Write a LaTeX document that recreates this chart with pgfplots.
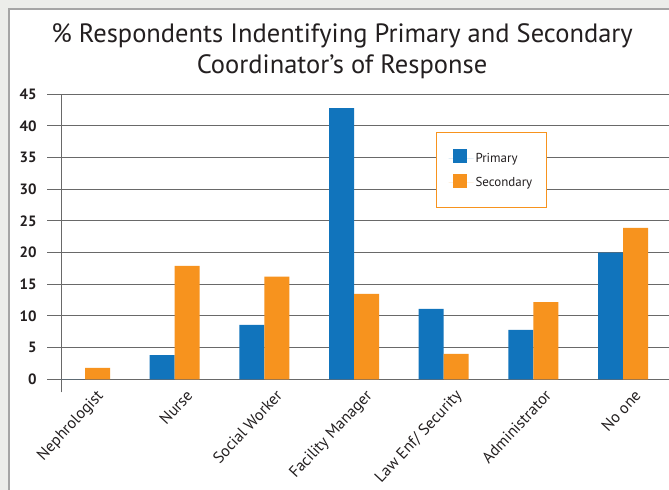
\documentclass[border=0pt]{standalone}
\usepackage{fontspec}
\setmainfont{PT Sans}
\usepackage{pgfplots}
\pgfplotsset{compat=1.18}
\usetikzlibrary{backgrounds}
\definecolor{barblue}{RGB}{17,116,188}
\definecolor{barorange}{RGB}{247,147,30}
\definecolor{gridgray}{RGB}{105,105,105}
\definecolor{framebg}{RGB}{236,237,234}
\definecolor{framegray}{RGB}{165,165,165}
\definecolor{labeltext}{RGB}{35,31,32}

\begin{document}
\begin{tikzpicture}
\begin{axis}[
  scale only axis, width=602bp, height=285bp,
  xmin=-0.268, xmax=6.446, ymin=0, ymax=45,
  ytick={0,5,...,45},
  xtick={0,...,6},
  xticklabels={Nephrologist, Nurse, Social Worker, Facility Manager,
    Law Enf/ Security, Administrator, No one},
  ybar=0pt, bar width=25bp,
  ymajorgrids, grid style={gridgray, line width=1bp},
  axis line style={draw=none},
  tick align=outside,
  major tick length=14bp,
  major y tick style={gridgray, line width=1bp},
  major x tick style={draw=none},
  /pgf/number format/assume math mode=true,
  yticklabel style={font=\fontsize{15}{15}\selectfont\bfseries, text=labeltext, xshift=-7bp},
  xticklabel style={rotate=47, anchor=north east, text=labeltext,
    font=\fontsize{16}{16}\selectfont, xshift=14bp, yshift=-1bp},
  legend style={at={(0.623,0.868)}, anchor=north west, draw=barorange,
    line width=1bp, fill=white, font=\fontsize{13}{13}\selectfont,
    text=labeltext, inner xsep=12bp, inner ysep=17bp, row sep=8bp},
  legend cell align=left,
  legend image code/.code={%
    \path (0bp,0bp) -- (25bp,0bp);
    \fill[#1] (4bp,-5bp) rectangle (18bp,9bp);},
  clip=false,
]
\addplot[fill=barblue, draw=none] coordinates
  {(0,0) (1,3.8) (2,8.6) (3,42.8) (4,11.1) (5,7.8) (6,20.0)};
\addplot[fill=barorange, draw=none] coordinates
  {(0,1.8) (1,17.9) (2,16.2) (3,13.5) (4,4.0) (5,12.2) (6,23.9)};
\legend{Primary, Secondary}
% vertical axis line, running a little below zero
\draw[gridgray, line width=1bp] (axis cs:-0.268,-2.05) -- (axis cs:-0.268,45);
\coordinate (ll) at (rel axis cs:0,0);
\end{axis}
% page frame and title, measured from the page's lower left corner
\begin{scope}[shift={(ll)}, xshift=-61bp, yshift=-110.7bp, x=1bp, y=1bp]
  \begin{pgfonlayer}{background}
    \fill[framebg] (0,0) rectangle (669,490);
    \fill[white] (9,0) rectangle (669,481);
    \draw[framegray, line width=1.2bp] (9,0) -- (9,481) -- (669,481);
  \end{pgfonlayer}
  \node[anchor=base, inner sep=0pt, text=labeltext, font=\fontsize{26.6}{26.6}\selectfont]
    at (342,447) {\% Respondents Indentifying Primary and Secondary};
  \node[anchor=base, inner sep=0pt, text=labeltext, font=\fontsize{26.6}{26.6}\selectfont]
    at (342,416) {Coordinator’s of Response};
  \pgfresetboundingbox
  \useasboundingbox (0,0) rectangle (669,490);
\end{scope}
\end{tikzpicture}
\end{document}
